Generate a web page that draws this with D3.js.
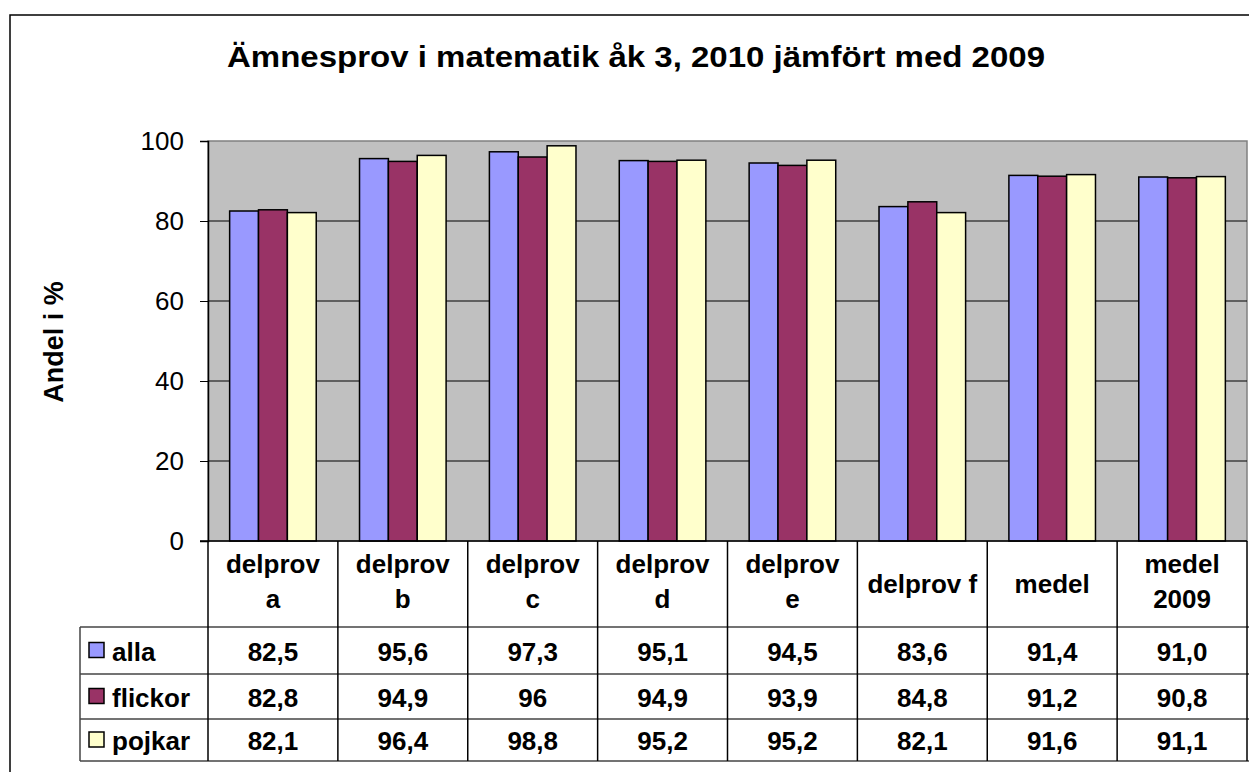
<!DOCTYPE html>
<html>
<head>
<meta charset="utf-8">
<script src="https://cdn.jsdelivr.net/npm/d3@7"></script>
<style>
  body { margin: 0; background: #fff; }
  text { font-family: "Liberation Sans", Arial, sans-serif; }
</style>
</head>
<body>
<div id="chart"></div>
<script>
// Data (table text as in the picture, Swedish decimal comma)
var categories = [["delprov", "a"], ["delprov", "b"], ["delprov", "c"], ["delprov", "d"],
                  ["delprov", "e"], ["delprov f"], ["medel"], ["medel", "2009"]];
var seriesNames = ["alla", "flickor", "pojkar"];
var allaText = ["82,5", "95,6", "97,3", "95,1", "94,5", "83,6", "91,4", "91,0"];
var flickorText = ["82,8", "94,9", "96", "94,9", "93,9", "84,8", "91,2", "90,8"];
var pojkarText = ["82,1", "96,4", "98,8", "95,2", "95,2", "82,1", "91,6", "91,1"];
var yTicks = [0, 20, 40, 60, 80, 100];
var colors = ["#9999FF", "#993366", "#FFFFCC"];

var seriesText = [allaText, flickorText, pojkarText];
var toNum = function(s) { return +s.replace(",", "."); };

// Dimensions
var svgWidth = 1249;
var svgHeight = 772;
var plot = { left: 208, right: 1247, top: 141, bottom: 541 };
var headerBottom = 627;
var rowBottoms = [674, 719, 761];

var svg = d3.select("#chart")
  .append("svg")
  .attr("width", svgWidth)
  .attr("height", svgHeight);

// Outer chart frame (extends past the picture on right and bottom)
svg.append("rect")
  .attr("x", 10).attr("y", 15)
  .attr("width", 1300).attr("height", 800)
  .attr("fill", "#fff")
  .attr("stroke", "#000")
  .attr("stroke-width", 1.5);

// Title
svg.append("text")
  .attr("x", 227).attr("y", 67)
  .attr("font-size", "29px")
  .attr("font-weight", "bold")
  .attr("textLength", 818)
  .attr("lengthAdjust", "spacingAndGlyphs")
  .text("Ämnesprov i matematik åk 3, 2010 jämfört med 2009");

// Scales
var x0 = d3.scaleBand()
  .domain(d3.range(categories.length))
  .range([plot.left, plot.right])
  .padding(0);

var bw = x0.bandwidth();
var barW = bw / 4.5;   // Excel gap width 150%
var x1 = d3.scaleBand()
  .domain(seriesNames)
  .range([barW * 0.75, bw - barW * 0.75])
  .padding(0);

var y = d3.scaleLinear()
  .domain([0, 100])
  .range([plot.bottom, plot.top]);

// Plot area background
svg.append("rect")
  .attr("x", plot.left).attr("y", plot.top)
  .attr("width", plot.right - plot.left)
  .attr("height", plot.bottom - plot.top)
  .attr("fill", "#C0C0C0")
  .attr("stroke", "#808080")
  .attr("stroke-width", 1.5);

// Gridlines
svg.append("g")
  .selectAll("line")
  .data(yTicks.filter(function(d) { return d > 0 && d < 100; }))
  .enter()
  .append("line")
  .attr("x1", plot.left).attr("x2", plot.right)
  .attr("y1", function(d) { return y(d); })
  .attr("y2", function(d) { return y(d); })
  .attr("stroke", "#000")
  .attr("stroke-width", 1);

// Bars
var groups = svg.append("g")
  .selectAll("g")
  .data(categories)
  .enter()
  .append("g")
  .attr("transform", function(d, i) { return "translate(" + x0(i) + ",0)"; });

groups.selectAll("rect")
  .data(function(d, i) {
    return seriesNames.map(function(s, j) {
      return { series: s, idx: j, value: toNum(seriesText[j][i]) };
    });
  })
  .enter()
  .append("rect")
  .attr("x", function(d) { return x1(d.series); })
  .attr("y", function(d) { return y(d.value); })
  .attr("width", x1.bandwidth())
  .attr("height", function(d) { return y(0) - y(d.value); })
  .attr("fill", function(d) { return colors[d.idx]; })
  .attr("stroke", "#000")
  .attr("stroke-width", 1.5);

// Y axis
var leftAxis = d3.axisLeft(y)
  .tickValues(yTicks)
  .tickSize(8)
  .tickPadding(16)
  .tickFormat(d3.format("d"));

var yAxis = svg.append("g")
  .attr("transform", "translate(" + plot.left + ",0)")
  .call(leftAxis);
yAxis.select(".domain").attr("stroke", "#000").attr("stroke-width", 1.5);
yAxis.selectAll(".tick line").attr("stroke", "#000");
yAxis.selectAll("text")
  .attr("font-size", "26px")
  .attr("font-family", "'Liberation Sans', Arial, sans-serif")
  .attr("fill", "#000");

// Y axis title
svg.append("text")
  .attr("transform", "translate(63, 342) rotate(-90)")
  .attr("text-anchor", "middle")
  .attr("font-size", "27px")
  .attr("font-weight", "bold")
  .text("Andel i %");

// Data table
var table = svg.append("g");
var tableLeft = 80;

// horizontal lines
table.selectAll("line.h")
  .data([headerBottom].concat(rowBottoms))
  .enter()
  .append("line")
  .attr("x1", tableLeft).attr("x2", plot.right + 10)
  .attr("y1", function(d) { return d; })
  .attr("y2", function(d) { return d; })
  .attr("stroke", "#444")
  .attr("stroke-width", 1.5);

// vertical lines
table.selectAll("line.v")
  .data(d3.range(categories.length + 1))
  .enter()
  .append("line")
  .attr("x1", function(i) { return plot.left + i * bw; })
  .attr("x2", function(i) { return plot.left + i * bw; })
  .attr("y1", plot.bottom)
  .attr("y2", rowBottoms[2])
  .attr("stroke", "#000")
  .attr("stroke-width", 1.5);

table.append("line")
  .attr("x1", tableLeft).attr("x2", tableLeft)
  .attr("y1", headerBottom).attr("y2", rowBottoms[2])
  .attr("stroke", "#444")
  .attr("stroke-width", 1.5);

// x axis line at zero
svg.append("line")
  .attr("x1", plot.left - 8).attr("x2", plot.right)
  .attr("y1", y(0)).attr("y2", y(0))
  .attr("stroke", "#000")
  .attr("stroke-width", 1.5);

// header labels
categories.forEach(function(lines, i) {
  var t = table.append("text")
    .attr("x", x0(i) + bw / 2)
    .attr("text-anchor", "middle")
    .attr("font-size", "26px")
    .attr("font-weight", "bold");
  var y0 = lines.length === 1 ? 593 : 573;
  lines.forEach(function(line, k) {
    t.append("tspan")
      .attr("x", x0(i) + bw / 2)
      .attr("y", y0 + k * 35)
      .text(line);
  });
});

// rows
var rowTops = [headerBottom].concat(rowBottoms.slice(0, 2));
seriesNames.forEach(function(name, j) {
  var mid = (rowTops[j] + rowBottoms[j]) / 2;
  table.append("rect")
    .attr("x", 89).attr("y", mid - 8)
    .attr("width", 15).attr("height", 15)
    .attr("fill", colors[j])
    .attr("stroke", "#000")
    .attr("stroke-width", 1.5);
  table.append("text")
    .attr("x", 112).attr("y", mid + 10)
    .attr("font-size", "26px")
    .attr("font-weight", "bold")
    .text(name);
  seriesText[j].forEach(function(v, i) {
    table.append("text")
      .attr("x", x0(i) + bw / 2)
      .attr("y", mid + 10)
      .attr("text-anchor", "middle")
      .attr("font-size", "26px")
      .attr("font-weight", "bold")
      .text(v);
  });
});
</script>
</body>
</html>
